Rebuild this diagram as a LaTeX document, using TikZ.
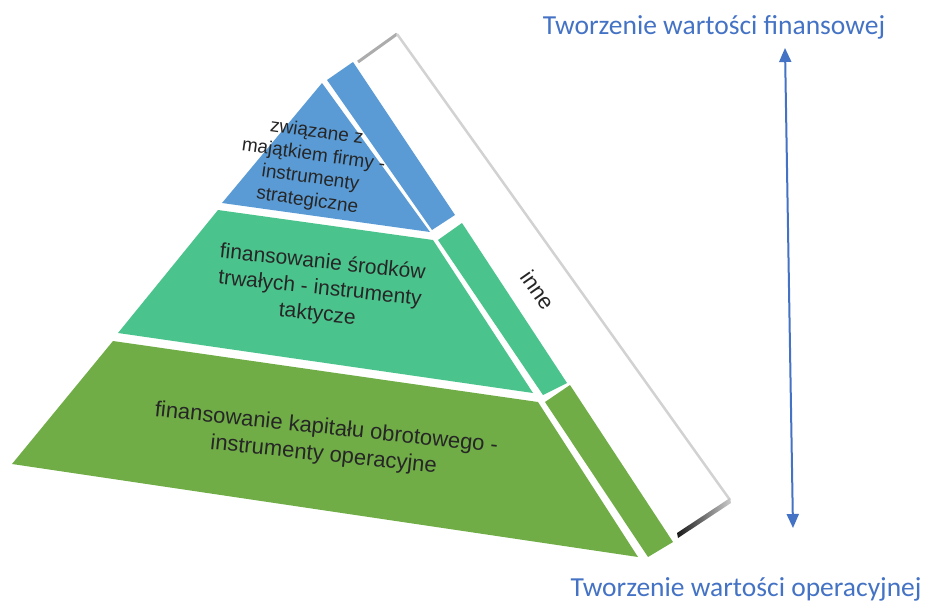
\documentclass[tikz,border=0pt]{standalone}
\usepackage{fontspec}
\setmainfont{Liberation Sans}
\newfontfamily\titlefont{Carlito}
\usetikzlibrary{arrows.meta}
\definecolor{tierblue}{HTML}{5B9BD5}
\definecolor{tierteal}{HTML}{4BC38C}
\definecolor{tiergreen}{HTML}{70AD47}
\definecolor{headblue}{HTML}{4472C4}

\begin{document}
\begin{tikzpicture}[x=1pt,y=-1pt,
  tierlabel/.style={align=center, text=black!85, inner sep=0pt},
  heading/.style={font=\titlefont\fontsize{27.5}{30}\selectfont, text=headblue, inner sep=0pt},
  valuearrow/.style={headblue, line width=2pt,
    {Triangle[width=12pt,length=14pt]}-{Triangle[width=12pt,length=14pt]}}]
\useasboundingbox (0,0) rectangle (930,605);

% side panel "inne"
\fill[white] (358,62) -- (397,34) -- (730,500) -- (677,535) -- cycle;
\draw[gray!65, line width=3pt] (358,62) -- (397,34);
\draw[gray!35, line width=2.5pt] (397,34) -- (730,500);
\shade[left color=black!90, right color=gray!40] (677,533) -- (730,498) -- (731,503) -- (678,538) -- cycle;

% pyramid tiers
\fill[tierblue] (322,83) -- (430,232) -- (222,203) -- cycle;
\fill[tierteal] (218,210) -- (433,240) -- (533,393) -- (118,333) -- cycle;
\fill[tiergreen] (113,341) -- (538,402) -- (638,557) -- (12,464) -- cycle;

% side strips
\fill[tierblue] (327,80) -- (353,62) -- (455,215) -- (432,230) -- cycle;
\fill[tierteal] (438,240) -- (462,223) -- (567,383) -- (543,395) -- cycle;
\fill[tiergreen] (545,402) -- (570,385) -- (673,542) -- (648,557) -- cycle;

% tier labels
\node[tierlabel, rotate=-8, font=\fontsize{19}{23}\selectfont] (top) at (312,167)
  {związane z\\majątkiem firmy -\\instrumenty\\strategiczne};
\node[tierlabel, rotate=-6, font=\fontsize{21}{26}\selectfont] (mid) at (320,289)
  {finansowanie środków\\trwałych - instrumenty\\taktycze};
\node[tierlabel, rotate=-6, font=\fontsize{22}{27}\selectfont] (base) at (325,442)
  {finansowanie kapitału obrotowego -\\instrumenty operacyjne};
\node[tierlabel, rotate=-55, font=\fontsize{22}{24}\selectfont] (other) at (538,290) {inne};

% value direction
\node[heading] (fin) at (714,27) {Tworzenie wartości finansowej};
\node[heading] (op) at (746,589) {Tworzenie wartości operacyjnej};
\coordinate (arrtop) at (785,48);
\coordinate (arrbot) at (793,528);
\draw[valuearrow] (arrtop) -- (arrbot);
\end{tikzpicture}
\end{document}
